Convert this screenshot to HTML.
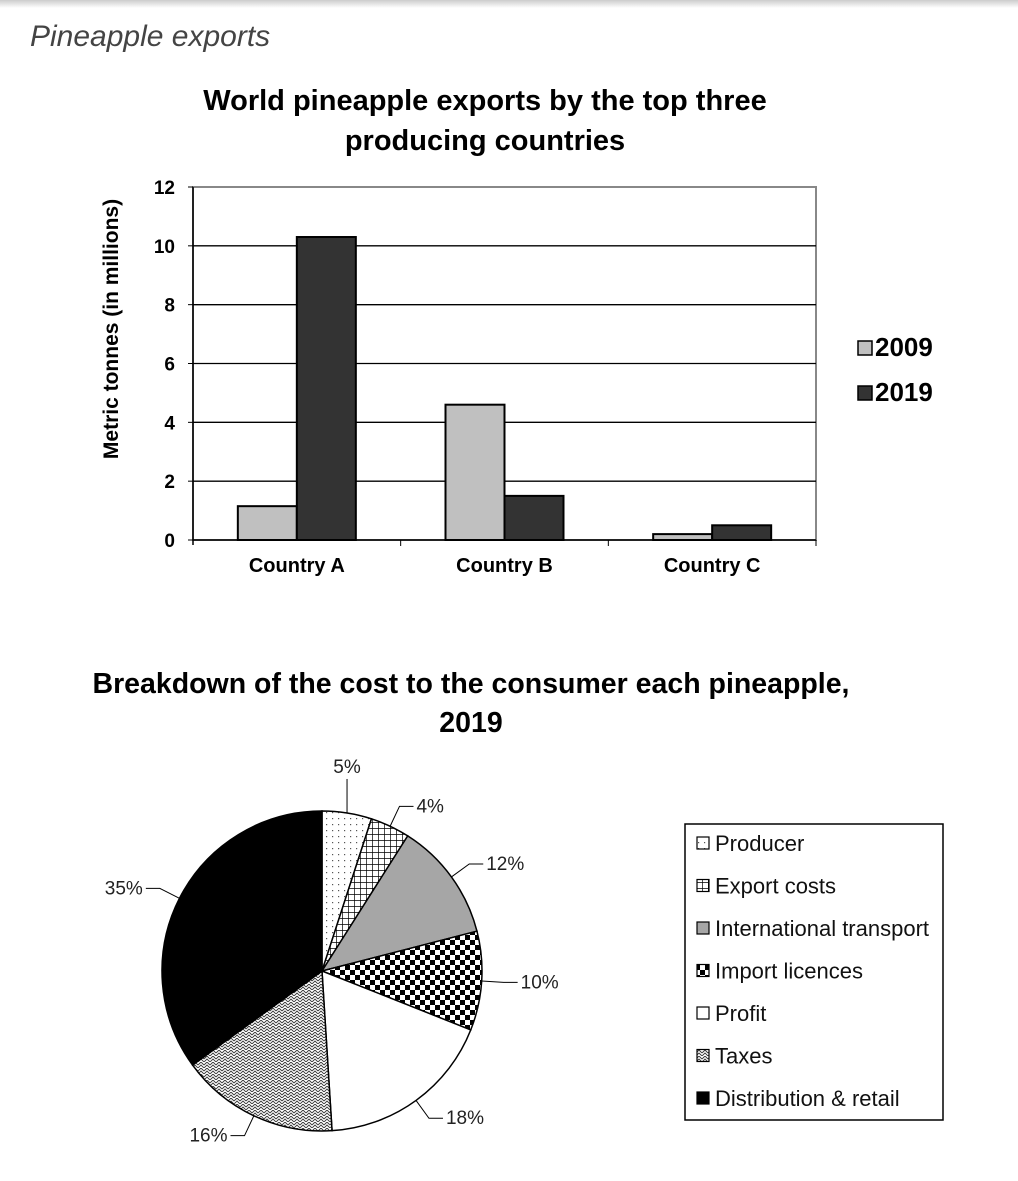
<!DOCTYPE html>
<html><head><meta charset="utf-8"><style>
body{margin:0;background:#fff;width:1018px;height:1176px;overflow:hidden;font-family:"Liberation Sans",sans-serif}
</style></head><body>
<svg width="1018" height="1176" viewBox="0 0 1018 1176" xmlns="http://www.w3.org/2000/svg">
<defs>
<linearGradient id="sh" x1="0" y1="0" x2="0" y2="1"><stop offset="0" stop-color="#ccc"/><stop offset="1" stop-color="#fff"/></linearGradient>
<pattern id="pDots" width="6" height="6" patternUnits="userSpaceOnUse"><rect width="6" height="6" fill="#fff"/><rect x="2" y="2" width="1.2" height="1.2" fill="#555"/></pattern>
<pattern id="pGrid" width="6" height="6" patternUnits="userSpaceOnUse"><rect width="6" height="6" fill="#fff"/><path d="M0 0H6M0 0V6" stroke="#000" stroke-width="1.4"/></pattern>
<pattern id="pCheck" width="10" height="10" patternUnits="userSpaceOnUse"><rect width="10" height="10" fill="#fff"/><rect width="5" height="5" fill="#000"/><rect x="5" y="5" width="5" height="5" fill="#000"/></pattern>
<pattern id="pTax" width="6" height="6" patternUnits="userSpaceOnUse"><rect width="6" height="6" fill="#fff"/><path d="M0 3L3 0L6 3M0 6L3 3L6 6" stroke="#333" stroke-width="0.9" fill="none"/></pattern>
</defs>
<rect x="0" y="0" width="1018" height="8" fill="url(#sh)"/>
<text x="30" y="46" font-size="30" font-style="italic" fill="#444" font-family="Liberation Sans,sans-serif">Pineapple exports</text>
<g id="bar"></g>
<g id="pie"></g>
</svg>
<script>
const categories=["Country A","Country B","Country C"];
const series2009=[1.15,4.6,0.2];
const series2019=[10.3,1.5,0.5];
const yTicks=[0,2,4,6,8,10,12];
const pieLabels=["Producer","Export costs","International transport","Import licences","Profit","Taxes","Distribution & retail"];
const pieValues=[5,4,12,10,18,16,35];
const pieText=["5%","4%","12%","10%","18%","16%","35%"];

const NS="http://www.w3.org/2000/svg";
function mk(tag,attrs,parent,txt){const e=document.createElementNS(NS,tag);for(const k in attrs)e.setAttribute(k,attrs[k]);if(txt!==undefined)e.textContent=txt;parent.appendChild(e);return e;}
const bar=document.getElementById('bar');
const L=193,R=816,T=187,B=540,ymax=12;
const y=v=>B-(v/ymax)*(B-T);
const bw=(R-L)/categories.length;
const x=i=>L+bw*i+bw/2;
let t;
t=mk('text',{x:485,y:110,'text-anchor':'middle','font-size':29,'font-weight':'bold'},bar,'World pineapple exports by the top three');


t=mk('text',{x:485,y:150,'text-anchor':'middle','font-size':29,'font-weight':'bold'},bar,'producing countries');


mk('rect',{x:L,y:T,width:R-L,height:B-T,fill:'none',stroke:'#888','stroke-width':2},bar);
yTicks.forEach(v=>{
 if(v>0&&v<ymax){const g=mk('line',{x1:L,x2:R,y1:y(v),y2:y(v),stroke:'#000','stroke-width':1.3},bar);}
 mk('line',{x1:L-5,x2:L,y1:y(v),y2:y(v),stroke:'#000'},bar);
 const l=mk('text',{x:L-18,y:y(v)+7,'text-anchor':'end','font-size':19,'font-weight':'bold'},bar,String(v));
 
 
});
mk('line',{x1:L,x2:L,y1:T,y2:B+5,stroke:'#000','stroke-width':1.5},bar);
mk('line',{x1:L,x2:R,y1:B,y2:B,stroke:'#000','stroke-width':1.5},bar);
const yt=mk('text',{x:0,y:0,transform:'translate(118,329) rotate(-90)','text-anchor':'middle','font-size':21,'font-weight':'bold'},bar,'Metric tonnes (in millions)');


const w=59;
categories.forEach((c,i)=>{
 mk('line',{x1:L+bw*(i+1),x2:L+bw*(i+1),y1:B,y2:B+6,stroke:'#000'},bar);
 const a=mk('rect',{x:x(i)-w,y:y(series2009[i]),width:w,height:B-y(series2009[i]),fill:'#c0c0c0',stroke:'#000','stroke-width':2},bar);
 
 
 const b=mk('rect',{x:x(i),y:y(series2019[i]),width:w,height:B-y(series2019[i]),fill:'#333',stroke:'#000','stroke-width':2},bar);
 
 
 const l=mk('text',{x:x(i),y:572,'text-anchor':'middle','font-size':20,'font-weight':'bold'},bar,c);
 
 
});
[['2009','#c0c0c0',356],['2019','#333',401]].forEach(([n,f,yy])=>{
 const r=mk('rect',{x:858,y:yy-15,width:14,height:14,fill:f,stroke:'#000','stroke-width':1.5},bar);
 
 
 const l=mk('text',{x:875,y:yy,'font-size':26,'font-weight':'bold'},bar,n);
 
 
});

// Pie
const pie=document.getElementById('pie');
t=mk('text',{x:471,y:693,'text-anchor':'middle','font-size':28.5,'font-weight':'bold'},pie,'Breakdown of the cost to the consumer each pineapple,');


t=mk('text',{x:471,y:732,'text-anchor':'middle','font-size':28.5,'font-weight':'bold'},pie,'2019');


const fills=['url(#pDots)','url(#pGrid)','#a6a6a6','url(#pCheck)','#fff','url(#pTax)','#000'];
const cx=322,cy=971,r=160;
const total=pieValues.reduce((a,b)=>a+b,0);
const pt=(ang,rr)=>[cx+rr*Math.sin(ang),cy-rr*Math.cos(ang)];
let acc=0;
pieValues.forEach((v,i)=>{
 const a0=acc/total*2*Math.PI;acc+=v;const a1=acc/total*2*Math.PI;
 const p0=pt(a0,r),p1=pt(a1,r);
 const s=mk('path',{d:`M${cx},${cy}L${p0[0]},${p0[1]}A${r},${r} 0 ${a1-a0>Math.PI?1:0} 1 ${p1[0]},${p1[1]}Z`,fill:fills[i],stroke:'#000','stroke-width':1.5},pie);
 
 
 const am=(a0+a1)/2;
 const e=pt(am,r),o=pt(am,r+22);
 const right=Math.sin(am)>=0.05,top=Math.abs(Math.sin(am))<0.3&&Math.cos(am)>0;
 let d,tx,ty,anchor;
 if(top){d=`M${e[0]},${e[1]}L${e[0]},${e[1]-34}`;tx=e[0];ty=e[1]-40;anchor='middle';}
 else{const hx=o[0]+(right?14:-14);d=`M${e[0]},${e[1]}L${o[0]},${o[1]}L${hx},${o[1]}`;tx=hx+(right?3:-3);ty=o[1]+6;anchor=right?'start':'end';}
 mk('path',{d:d,fill:'none',stroke:'#000','stroke-width':1},pie);
 const l=mk('text',{x:tx,y:ty,'text-anchor':anchor,'font-size':19,fill:'#222'},pie,pieText[i]);
 
 
});
const lg=mk('rect',{x:685,y:824,width:258,height:296,fill:'#fff',stroke:'#000','stroke-width':1.5},pie);


pieLabels.forEach((n,i)=>{
 const yy=843+i*42.5;
 const sw=mk('rect',{x:697,y:yy-6,width:12,height:12,fill:fills[i],stroke:'#000','stroke-width':1.2},pie);
 
 
 const l=mk('text',{x:715,y:yy+8,'font-size':22,fill:'#111'},pie,n);
 
 
});
</script>
</body></html>
